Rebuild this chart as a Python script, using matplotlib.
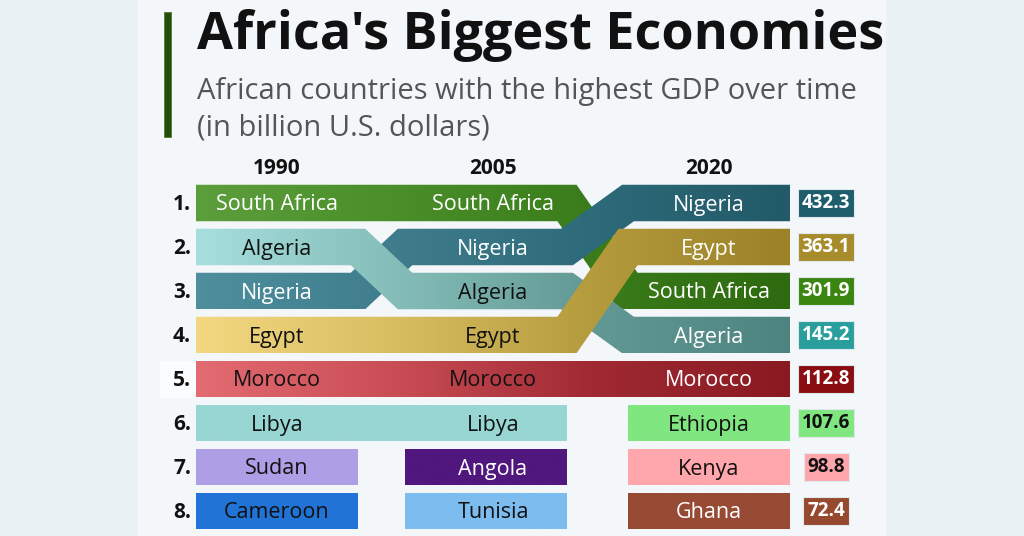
import numpy as np
import matplotlib
matplotlib.use('Agg')
import matplotlib.pyplot as plt
from matplotlib.patches import Polygon, Rectangle
from matplotlib.colors import LinearSegmentedColormap

plt.rcParams['font.family'] = ['Open Sans', 'DejaVu Sans']

# Données
years = ['1990', '2005', '2020']
countries = ['Morocco', 'Libya', 'Sudan', 'Cameroon', 'Angola', 'Tunisia',
             'Ethiopia', 'Kenya', 'Ghana',
             'South Africa', 'Nigeria', 'Algeria', 'Egypt']
rank_1990 = [5, 6, 7, 8, None, None, None, None, None, 1, 3, 2, 4]
rank_2005 = [5, 6, None, None, 7, 8, None, None, None, 1, 2, 3, 4]
rank_2020 = [5, None, None, None, None, None, 6, 7, 8, 3, 1, 4, 2]
gdp_2020 = [112.8, None, None, None, None, None, 107.6, 98.8, 72.4,
            301.9, 432.3, 145.2, 363.1]

# Couleurs (dégradé gauche -> droite) et couleur du texte par année
colors = {
    'South Africa': ['#5c9e3c', '#4a8f2a', '#3a7c1b', '#2e6a0f'],
    'Nigeria': ['#4e8e9d', '#3f7d8d', '#2d6a7a', '#225a67'],
    'Algeria': ['#a6dfde', '#85bdb9', '#629995', '#4e8480'],
    'Egypt': ['#f3d881', '#d9bd61', '#b49b3d', '#9c8127'],
    'Morocco': ['#e36b72', '#c94d54', '#a02a34', '#891a22'],
    'Libya': ['#98d6d3'],
    'Sudan': ['#ae9ee6'],
    'Cameroon': ['#2173d6'],
    'Angola': ['#50177e'],
    'Tunisia': ['#7dbcef'],
    'Ethiopia': ['#80e680'],
    'Kenya': ['#ffa7ad'],
    'Ghana': ['#974a34'],
}
text_colors = {
    'South Africa': ['white', 'white', 'white'],
    'Nigeria': ['white', 'white', 'white'],
    'Algeria': ['#111', '#111', 'white'],
    'Egypt': ['#111', '#111', 'white'],
    'Morocco': ['#111', '#111', 'white'],
    'Angola': ['white'] * 3,
    'Ghana': ['white'] * 3,
}
value_colors = {
    'Nigeria': ('#1e5e6c', 'white'),
    'Egypt': ('#a88c2c', 'white'),
    'South Africa': ('#3b8610', 'white'),
    'Algeria': ('#2a9d9d', 'white'),
    'Morocco': ('#8a0d12', 'white'),
    'Ethiopia': ('#80e680', '#111'),
    'Kenya': ('#ffa6ac', '#111'),
    'Ghana': ('#96492f', 'white'),
}

# Mise en page (pixels)
W, H = 1024, 536
col_x0 = [196, 405, 628]
col_x1 = [358, 567, 790]
label_x = [277, 493, 709]
row_y0 = 203
row_gap = 44
band_h = 36.5


def row_y(r):
    return row_y0 + (r - 1) * row_gap


def ribbon_polygon(pts, h):
    """Polygone d'une ligne épaisse avec jointures en onglet."""
    pts = np.asarray(pts, dtype=float)
    n = len(pts)
    normals = []
    for i in range(n - 1):
        d = pts[i + 1] - pts[i]
        d = d / np.hypot(*d)
        normals.append(np.array([-d[1], d[0]]))
    offs = []
    for i in range(n):
        if i == 0:
            offs.append(normals[0] * h)
        elif i == n - 1:
            offs.append(normals[-1] * h)
        else:
            m = normals[i - 1] + normals[i]
            m = m / np.hypot(*m)
            offs.append(m * h / np.dot(m, normals[i - 1]))
    offs = np.array(offs)
    left = pts + offs
    right = pts - offs
    return np.vstack([left, right[::-1]])


fig = plt.figure(figsize=(W / 100, H / 100), dpi=100)
fig.patch.set_facecolor('#ebf2f5')
ax = fig.add_axes([0, 0, 1, 1])
ax.set_xlim(0, W)
ax.set_ylim(H, 0)
ax.axis('off')

# Panneau de fond
ax.add_patch(Rectangle((138, 0), 748, H, facecolor='#f4f7fa', edgecolor='none', zorder=0))
ax.add_patch(Rectangle((160, row_y(5) - 18), 36, 37, facecolor='#fbfcfd', edgecolor='none', zorder=0.5))

# Titre
ax.add_patch(Rectangle((164, 12), 7, 125, facecolor='#234d08', edgecolor='#4f7a35', lw=0.6, zorder=2))
ax.text(197, 35, "Africa's Biggest Economies", fontsize=37.5, fontweight='bold',
        color='#111', va='center', ha='left')
ax.text(197, 91, "African countries with the highest GDP over time", fontsize=21,
        color='#555', va='center', ha='left')
ax.text(197, 128, "(in billion U.S. dollars)", fontsize=21,
        color='#555', va='center', ha='left')

# En-têtes des années
for j, yr in enumerate(years):
    ax.text(label_x[j], 168, yr, fontsize=15, fontweight='bold',
            color='#111', ha='center', va='center')

# Rangs
for r in range(1, 9):
    ax.text(191, row_y(r) + 1, f'{r}.', fontsize=15, fontweight='bold', color='#111',
            ha='right', va='center')

ranks = list(zip(rank_1990, rank_2005, rank_2020))

for k, name in enumerate(countries):
    rk = ranks[k]
    pts = []
    for j in range(3):
        if rk[j] is None:
            continue
        pts.append((col_x0[j], row_y(rk[j])))
        pts.append((col_x1[j], row_y(rk[j])))
    poly = ribbon_polygon(pts, band_h / 2)
    patch = Polygon(poly, closed=True, facecolor='none', edgecolor='none', zorder=3 + k)
    ax.add_patch(patch)
    cl = colors[name]
    if len(cl) == 1:
        cl = cl * 2
    cmap = LinearSegmentedColormap.from_list(name, cl)
    xmin, xmax = poly[:, 0].min(), poly[:, 0].max()
    ymin, ymax = poly[:, 1].min(), poly[:, 1].max()
    grad = np.linspace(0, 1, 256).reshape(1, -1)
    im = ax.imshow(grad, cmap=cmap, extent=(xmin, xmax, ymax, ymin), aspect='auto',
                   interpolation='bilinear', zorder=3 + k)
    im.set_clip_path(patch)

    tc = text_colors.get(name, ['#111'] * 3)
    for j in range(3):
        if rk[j] is None:
            continue
        ax.text(label_x[j], row_y(rk[j]) + 2, name, fontsize=15.5,
                color=tc[j], ha='center', va='center', zorder=20)

    if gdp_2020[k] is not None:
        bg, fg = value_colors[name]
        ax.text(826, row_y(rk[2]), f'{gdp_2020[k]:.1f}', fontsize=13.5, fontweight='bold',
                color=fg, ha='center', va='center', zorder=20,
                bbox=dict(boxstyle='square,pad=0.2', facecolor=bg, edgecolor='#dfe8ea', lw=0.8))

fig.savefig('out.png', dpi=100, facecolor=fig.get_facecolor())
